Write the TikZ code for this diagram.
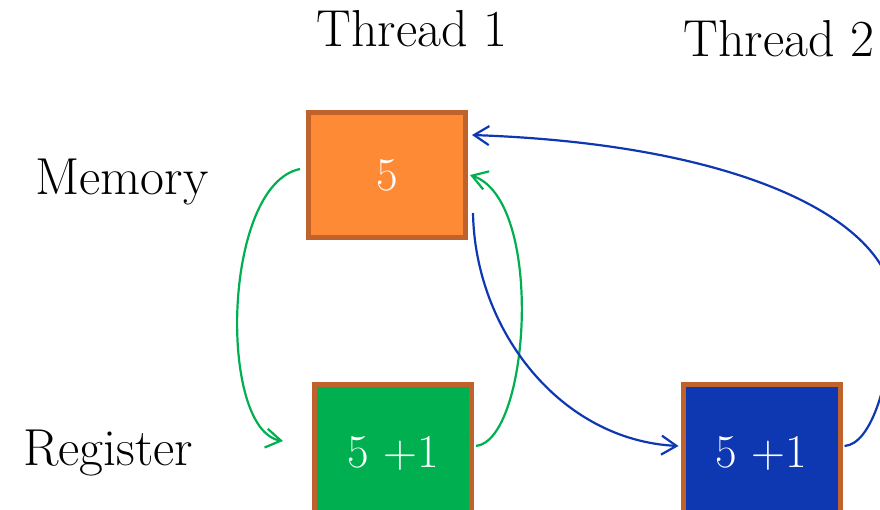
\documentclass[tikz,border=0pt]{standalone}
\usetikzlibrary{arrows.meta}
\definecolor{memfill}{HTML}{FF8A36}
\definecolor{boxedge}{HTML}{C0622B}
\definecolor{regfill}{HTML}{00B050}
\definecolor{thrfill}{HTML}{0E38B1}
\definecolor{gline}{HTML}{00B050}
\definecolor{bline}{HTML}{0E38B1}
\tikzset{
  label/.style={font=\fontsize{52}{62}\selectfont, anchor=base, inner sep=0pt},
  cell/.style={draw=boxedge, line width=5pt, minimum width=157pt, minimum height=125pt,
    inner sep=0pt, text=white, font=\fontsize{47}{56}\selectfont},
  flow/.style={line width=2.2pt, -{Straight Barb[length=15pt,width=19pt,line width=2.2pt]}},
}
\begin{document}
\begin{tikzpicture}[x=1pt, y=-1pt]
  \useasboundingbox (0,0) rectangle (880,510);
  \clip (0,0) rectangle (880,510);

  % column and row labels
  \node[label] (t1) at (412,47) {Thread 1};
  \node[label] (t2) at (779,57) {Thread 2};
  \node[label] (lmem) at (122,195) {Memory};
  \node[label] (lreg) at (108,465) {Register};

  % storage cells (the register cells run past the lower edge)
  \node[cell, fill=memfill] (mem) at (387,175) {5};
  \node[cell, fill=regfill, minimum height=137pt] (reg1) at (393,453) {5 +1};
  \node[cell, fill=thrfill, minimum height=137pt] (reg2) at (761.5,453) {5 +1};

  % thread 1: load, increment, store
  \draw[flow, gline] ([shift={(-6,-6)}]mem.west)
    .. controls (222,185) and (218,430) .. ([shift={(-29,-12)}]reg1.west);
  \draw[flow, gline] ([shift={(2,-7)}]reg1.east)
    .. controls (530,440) and (545,200) .. ([shift={(2,0)}]mem.east);

  % thread 2: load, increment, store
  \draw[flow, bline] ([shift={(5,38)}]mem.east)
    .. controls (475,330) and (560,440) .. ([shift={(-2,-7)}]reg2.west);
  \draw[flow, bline] ([shift={(2,-7)}]reg2.east)
    .. controls (872,444) and (890,380) .. (893,318)
    .. controls (905,230) and (760,145) .. ([shift={(4,-40)}]mem.east);
\end{tikzpicture}
\end{document}
